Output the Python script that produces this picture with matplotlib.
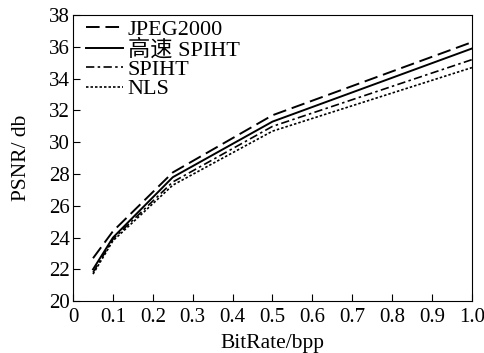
import matplotlib.pyplot as plt

plt.rcParams['font.family'] = ['Liberation Serif', 'Noto Sans CJK SC']

# bit rates (bpp) and PSNR (dB)
bitrate = [0.05, 0.1, 0.25, 0.5, 1.0]
jpeg2000 = [22.7, 24.4, 28.1, 31.7, 36.3]
fast_spiht = [22.0, 24.0, 27.8, 31.3, 35.9]
spiht = [21.8, 23.9, 27.5, 31.0, 35.2]
nls = [21.7, 23.8, 27.3, 30.7, 34.7]

fig, ax = plt.subplots(figsize=(4.84, 3.53), dpi=100)
ax.plot(bitrate, jpeg2000, color='black', lw=1.4, dashes=(7, 3), label='JPEG2000')
ax.plot(bitrate, fast_spiht, color='black', lw=1.4, label='高速 SPIHT')
ax.plot(bitrate, spiht, color='black', lw=1.2, dashes=(5, 2, 1.5, 2), label='SPIHT')
ax.plot(bitrate, nls, color='black', lw=1.2, dashes=(1.5, 1.2), label='NLS')

ax.set_xlim(0, 1.0)
ax.set_ylim(20, 38)
ax.set_xticks([0, 0.1, 0.2, 0.3, 0.4, 0.5, 0.6, 0.7, 0.8, 0.9, 1.0])
ax.set_xticklabels(['0', '0.1', '0.2', '0.3', '0.4', '0.5', '0.6', '0.7', '0.8', '0.9', '1.0'])
ax.set_yticks(range(20, 39, 2))
ax.tick_params(direction='in', length=5, labelsize=15)
ax.tick_params(axis='y', pad=2)
ax.tick_params(axis='x', pad=5)
ax.set_xlabel('BitRate/bpp', fontsize=15.5, labelpad=5)
ax.set_ylabel('PSNR/ db', fontsize=15.5, labelpad=13)
ax.legend(loc='upper left', bbox_to_anchor=(0.02, 1.0), frameon=False, fontsize=16,
          handlelength=1.7, handletextpad=0.2, labelspacing=-0.05,
          borderaxespad=0.1, borderpad=0.1)

plt.subplots_adjust(left=0.151, right=0.975, top=0.957, bottom=0.147)
plt.savefig('out.png')
